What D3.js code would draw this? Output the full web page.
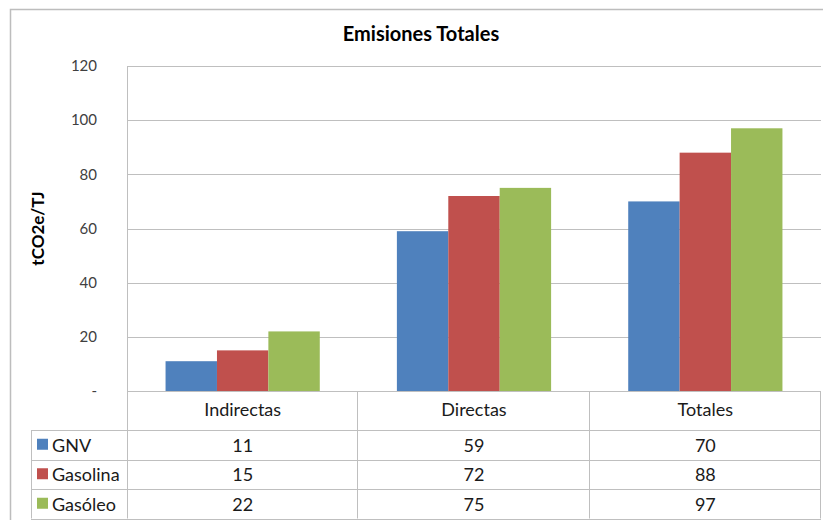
<!DOCTYPE html>
<html>
<head>
<meta charset="utf-8">
<script src="https://cdn.jsdelivr.net/npm/d3@7"></script>
<style>
  body { margin: 0; background: #fff; }
  svg { font-family: Lato, "Open Sans", sans-serif; }
</style>
</head>
<body>
<svg id="chart" width="823" height="520"></svg>
<script>
// Emisiones Totales - grouped bars with data table underneath

var categories = ["Indirectas", "Directas", "Totales"];
var seriesNames = ["GNV", "Gasolina", "Gasóleo"];
var gnv = [11, 59, 70];
var gasolina = [15, 72, 88];
var gasoleo = [22, 75, 97];
var yTicks = [0, 20, 40, 60, 80, 100, 120];
var colors = ["#4f81bd", "#c0504d", "#9bbb59"];

var values = [gnv, gasolina, gasoleo];

var svg = d3.select("#chart");
// note: "top" is taken by window.top, so use plot* names
var plotLeft = 127, plotRight = 821, plotTop = 66, plotBottom = 391;
var rowH = [39, 29.5, 29.5, 29.5];
var legendLeft = 31;

// outer chart frame
svg.append("rect")
  .attr("x", 10.5).attr("y", 9.5)
  .attr("width", 830).attr("height", 530)
  .attr("fill", "none").attr("stroke", "#bdbdbd").attr("stroke-width", 1.5);

svg.append("text")
  .attr("x", 421).attr("y", 41)
  .attr("text-anchor", "middle")
  .attr("font-size", 20).attr("font-weight", "bold")
  .text("Emisiones Totales");

var y = d3.scaleLinear().domain([0, 120]).range([plotBottom, plotTop]);
var x = d3.scaleBand().domain(categories).range([plotLeft, plotRight]);
var xs = d3.scaleBand().domain(seriesNames).range([0, x.bandwidth()]).paddingOuter(0.75).paddingInner(0);

// gridlines
svg.append("g").selectAll("line")
  .data(yTicks)
  .enter().append("line")
    .attr("x1", plotLeft).attr("x2", plotRight)
    .attr("y1", function(d) { return Math.round(y(d)) + 0.5; })
    .attr("y2", function(d) { return Math.round(y(d)) + 0.5; })
    .attr("stroke", "#bfbfbf");

// y axis labels
var yAxis = d3.axisLeft(y).tickValues(yTicks).tickSize(0).tickPadding(30)
  .tickFormat(function(d) { return d === 0 ? "-" : d; });
var yg = svg.append("g").attr("transform", "translate(" + plotLeft + ",0)").call(yAxis);
yg.select(".domain").remove();
yg.selectAll("text").attr("font-size", 15).attr("fill", "#404040")
  .attr("font-family", "Lato, 'Open Sans', sans-serif");

svg.append("text")
  .attr("transform", "translate(44," + ((plotTop + plotBottom) / 2) + ") rotate(-90)")
  .attr("text-anchor", "middle")
  .attr("font-size", 17).attr("font-weight", "bold")
  .text("tCO2e/TJ");

// bars
seriesNames.forEach(function(s, si) {
  svg.append("g").selectAll("rect")
    .data(values[si])
    .enter().append("rect")
      .attr("x", function(d, i) { return x(categories[i]) + xs(s); })
      .attr("y", function(d) { return y(d); })
      .attr("width", xs.bandwidth())
      .attr("height", function(d) { return plotBottom - y(d); })
      .attr("fill", colors[si]);
});

// data table
var tableTop = plotBottom;
var rowsY = [tableTop];
rowH.forEach(function(h, i) { rowsY.push(rowsY[i] + h); });
var grid = svg.append("g").attr("stroke", "#bfbfbf").attr("fill", "none");

// vertical line at plot left, from top of plot to bottom of table
grid.append("line").attr("x1", plotLeft + 0.5).attr("x2", plotLeft + 0.5).attr("y1", plotTop).attr("y2", rowsY[4]);
categories.forEach(function(c) {
  var xe = Math.round(x(c) + x.bandwidth()) - 0.5;
  grid.append("line").attr("x1", xe).attr("x2", xe).attr("y1", tableTop).attr("y2", rowsY[4]);
});
grid.append("line").attr("x1", legendLeft + 0.5).attr("x2", legendLeft + 0.5).attr("y1", rowsY[1]).attr("y2", rowsY[4]);
[1, 2, 3, 4].forEach(function(r) {
  grid.append("line").attr("x1", legendLeft).attr("x2", plotRight)
    .attr("y1", Math.round(rowsY[r]) + 0.5).attr("y2", Math.round(rowsY[r]) + 0.5);
});

svg.append("g").selectAll("text")
  .data(categories)
  .enter().append("text")
    .attr("x", function(d) { return x(d) + x.bandwidth() / 2; })
    .attr("y", tableTop + 25)
    .attr("text-anchor", "middle").attr("font-size", 18).attr("fill", "#1a1a1a")
    .text(function(d) { return d; });

seriesNames.forEach(function(s, si) {
  var yc = (rowsY[si + 1] + rowsY[si + 2]) / 2;
  svg.append("rect").attr("x", 37).attr("y", yc - 6).attr("width", 11).attr("height", 11).attr("fill", colors[si]);
  svg.append("text").attr("x", 52).attr("y", yc + 7)
    .attr("font-size", 18).attr("fill", "#1a1a1a").text(s);
  svg.append("g").selectAll("text")
    .data(values[si])
    .enter().append("text")
      .attr("x", function(d, i) { return x(categories[i]) + x.bandwidth() / 2; })
      .attr("y", yc + 7)
      .attr("text-anchor", "middle").attr("font-size", 18).attr("fill", "#1a1a1a")
      .text(function(d) { return d; });
});
</script>
</body>
</html>
